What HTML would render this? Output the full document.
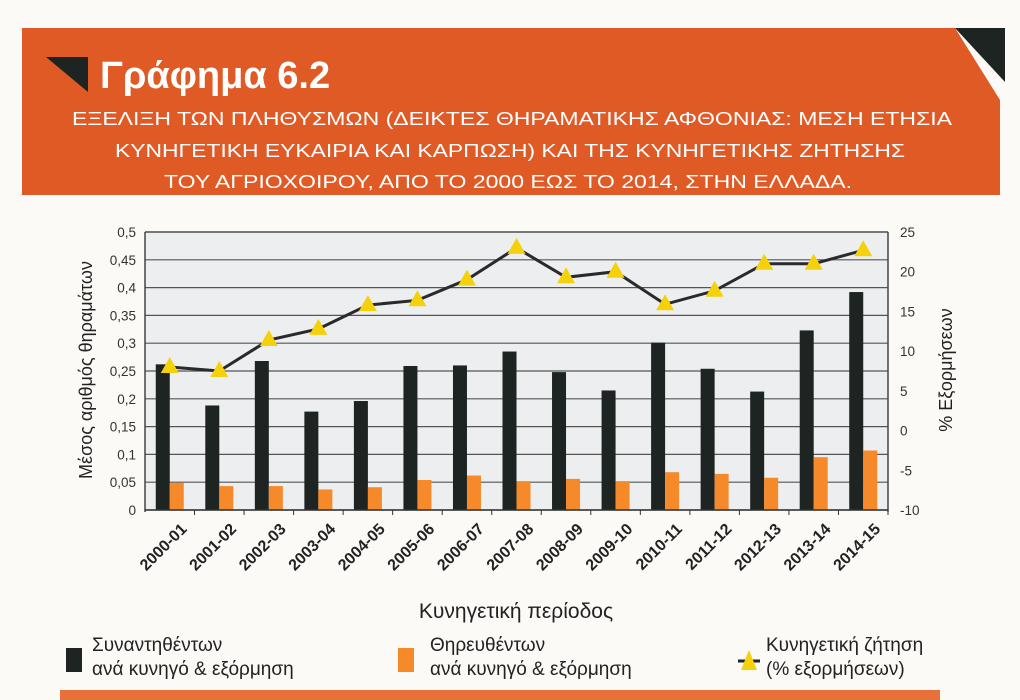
<!DOCTYPE html>
<html><head><meta charset="utf-8">
<style>
html,body{margin:0;padding:0;background:#fbfaf6;width:1020px;height:700px;overflow:hidden;font-family:"Liberation Sans","DejaVu Sans",sans-serif;}
</style></head>
<body>
<svg id="chart" width="1020" height="700" xmlns="http://www.w3.org/2000/svg">
  <rect x="0" y="0" width="1020" height="700" fill="#fbfaf6"/>
  <polygon points="22,28 955,28 1000,100 1000,195 22,195" fill="#e05a26"/>
  <polygon points="955,28 1005,28 1005,82" fill="#1e2421"/>
  <polygon points="46,57 88,57 88,92" fill="#1e2421"/>
  <text x="100" y="88" font-size="38" fill="#fff" font-weight="bold">Γράφημα 6.2</text>
  <g fill="#fff" font-size="18" text-anchor="middle" font-family="Liberation Sans, sans-serif">
    <text x="512" y="125" textLength="880" lengthAdjust="spacingAndGlyphs">ΕΞΕΛΙΞΗ ΤΩΝ ΠΛΗΘΥΣΜΩΝ (ΔΕΙΚΤΕΣ ΘΗΡΑΜΑΤΙΚΗΣ ΑΦΘΟΝΙΑΣ: ΜΕΣΗ ΕΤΗΣΙΑ</text>
    <text x="510" y="157" textLength="790" lengthAdjust="spacingAndGlyphs">ΚΥΝΗΓΕΤΙΚΗ ΕΥΚΑΙΡΙΑ ΚΑΙ ΚΑΡΠΩΣΗ) ΚΑΙ ΤΗΣ ΚΥΝΗΓΕΤΙΚΗΣ ΖΗΤΗΣΗΣ</text>
    <text x="508" y="188" textLength="688" lengthAdjust="spacingAndGlyphs">ΤΟΥ ΑΓΡΙΟΧΟΙΡΟΥ, ΑΠΟ ΤΟ 2000 ΕΩΣ ΤΟ 2014, ΣΤΗΝ ΕΛΛΑΔΑ.</text>
  </g>
  <rect x="145" y="232" width="743" height="278" fill="#eceef0"/>
  <g id="grid"></g>
  <g id="bars"></g>
  <g id="line"></g>
  <g id="axes"></g>
  <text x="0" y="0" transform="translate(92,370) rotate(-90)" font-size="18" fill="#222" text-anchor="middle">Μέσος αριθμός θηραμάτων</text>
  <text x="0" y="0" transform="translate(952,370) rotate(-90)" font-size="18" fill="#222" text-anchor="middle">% Εξορμήσεων</text>
  <text x="516" y="618" font-size="21" fill="#222" text-anchor="middle">Κυνηγετική περίοδος</text>
  <g>
    <rect x="66" y="648" width="16" height="24" fill="#1e2421"/>
    <text x="92" y="651" font-size="19" fill="#222">Συναντηθέντων</text>
    <text x="92" y="675" font-size="19" fill="#222">ανά κυνηγό &amp; εξόρμηση</text>
    <rect x="398" y="648" width="16" height="24" fill="#f68a2a"/>
    <text x="430" y="651" font-size="19" fill="#222">Θηρευθέντων</text>
    <text x="430" y="675" font-size="19" fill="#222">ανά κυνηγό &amp; εξόρμηση</text>
    <line x1="738" y1="661" x2="760" y2="661" stroke="#222" stroke-width="3"/>
    <polygon points="749,650 757,670 741,670" fill="#f5d10c"/>
    <text x="766" y="651" font-size="19" fill="#222">Κυνηγετική ζήτηση</text>
    <text x="766" y="675" font-size="19" fill="#222">(% εξορμήσεων)</text>
  </g>
  <rect x="60" y="690" width="880" height="10" fill="#e8703a"/>
</svg>
<script>
const categories = ["2000-01","2001-02","2002-03","2003-04","2004-05","2005-06","2006-07","2007-08","2008-09","2009-10","2010-11","2011-12","2012-13","2013-14","2014-15"];
const encountered = [0.262,0.188,0.268,0.177,0.196,0.259,0.260,0.285,0.248,0.215,0.301,0.254,0.213,0.323,0.392];
const harvested = [0.049,0.043,0.043,0.037,0.041,0.054,0.062,0.052,0.056,0.052,0.068,0.065,0.058,0.095,0.107];
const demand = [8,7.5,11.4,12.8,15.8,16.4,19,23,19.3,20,15.9,17.6,21,21,22.7];
const leftTicks = ["0","0,05","0,1","0,15","0,2","0,25","0,3","0,35","0,4","0,45","0,5"];
const rightTicks = ["-10","-5","0","5","10","15","20","25"];

const NS = "http://www.w3.org/2000/svg";
const X0 = 145, X1 = 888, Y0 = 510, Y1 = 232;
const band = (X1 - X0) / categories.length;
const yL = v => Y0 - (v / 0.5) * (Y0 - Y1);
const yR = v => Y0 - ((v + 10) / 35) * (Y0 - Y1);
const xC = i => X0 + band * (i + 0.5);
function mk(tag, attrs, parent) {
  const e = document.createElementNS(NS, tag);
  for (const k in attrs) e.setAttribute(k, attrs[k]);
  parent.appendChild(e);
  return e;
}
const grid = document.getElementById('grid'), bars = document.getElementById('bars'),
      line = document.getElementById('line'), axes = document.getElementById('axes');

leftTicks.forEach((t, i) => {
  const y = yL(i * 0.05);
  const g = mk('line', {x1: X0, x2: X1, y1: y, y2: y, stroke: i === 10 ? '#777' : '#555', 'stroke-width': i === 10 ? 2 : 1.2}, grid);
  
  
  const tx = mk('text', {x: X0 - 9, y: y + 5, 'font-size': 13.5, fill: '#333', 'text-anchor': 'end'}, axes);
  tx.textContent = t;
  
  
});
rightTicks.forEach((t) => {
  const y = yR(parseFloat(t));
  const tx = mk('text', {x: X1 + 12, y: y + 5, 'font-size': 13.5, fill: '#333'}, axes);
  tx.textContent = t;
  
  
});
mk('line', {x1: X0, x2: X0, y1: Y1, y2: Y0 + 2, stroke: '#444', 'stroke-width': 1.5}, axes);
mk('line', {x1: X1, x2: X1, y1: Y1, y2: Y0 + 2, stroke: '#444', 'stroke-width': 1.5}, axes);
mk('line', {x1: X0, x2: X1, y1: Y0, y2: Y0, stroke: '#333', 'stroke-width': 1.5}, axes);

categories.forEach((c, i) => {
  const cx = xC(i);
  const b1 = mk('rect', {x: cx - 14, y: yL(encountered[i]), width: 14, height: Y0 - yL(encountered[i]), fill: '#1e2421'}, bars);
  
  
  const b2 = mk('rect', {x: cx, y: yL(harvested[i]), width: 14, height: Y0 - yL(harvested[i]), fill: '#f68a2a'}, bars);
  
  
  const tk = mk('line', {x1: X0 + band * (i + 1), x2: X0 + band * (i + 1), y1: Y0, y2: Y0 + 5, stroke: '#333'}, axes);
  
  
  const lb = mk('text', {x: 0, y: 0, 'font-size': 16, 'font-weight': 'bold', fill: '#222', 'text-anchor': 'end', transform: `translate(${cx + 18},${Y0 + 20}) rotate(-45)`}, axes);
  lb.textContent = c;
  
  
});

const pts = demand.map((v, i) => xC(i) + ',' + yR(v)).join(' ');
const pl = mk('polyline', {points: pts, fill: 'none', stroke: '#2a2a2a', 'stroke-width': 3}, line);


demand.forEach((v, i) => {
  const x = xC(i), y = yR(v);
  const m = mk('polygon', {points: `${x},${y - 10} ${x + 9},${y + 6} ${x - 9},${y + 6}`, fill: '#f5d10c'}, line);
  
  
});
</script>
</body></html>
